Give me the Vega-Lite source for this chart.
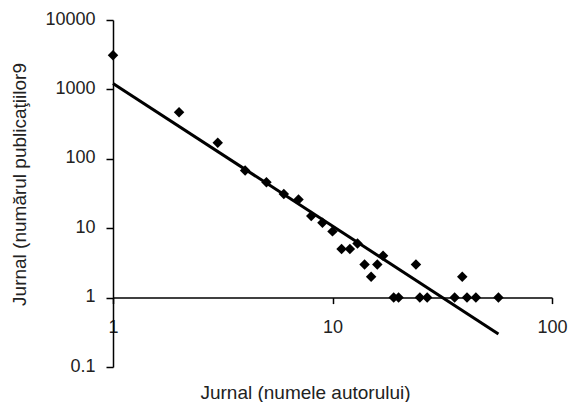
{
  "$schema": "https://vega.github.io/schema/vega-lite/v6.json",
  "width": 439,
  "height": 347,
  "autosize": "none",
  "padding": {"left": 113, "top": 20, "right": 19, "bottom": 35},
  "background": "white",
  "config": {"view": {"stroke": null}, "font": "Liberation Sans"},
  "layer": [
    {
      "data": {"values": [
        {"x": 1, "y": 3100}, {"x": 2, "y": 470}, {"x": 3, "y": 170}, {"x": 4, "y": 68},
        {"x": 5, "y": 46}, {"x": 6, "y": 31}, {"x": 7, "y": 26}, {"x": 8, "y": 15},
        {"x": 9, "y": 12}, {"x": 10, "y": 9}, {"x": 11, "y": 5}, {"x": 12, "y": 5},
        {"x": 13, "y": 6}, {"x": 14, "y": 3}, {"x": 15, "y": 2}, {"x": 16, "y": 3},
        {"x": 17, "y": 4}, {"x": 19, "y": 1}, {"x": 20, "y": 1}, {"x": 24, "y": 3},
        {"x": 25, "y": 1}, {"x": 27, "y": 1}, {"x": 36, "y": 1}, {"x": 39, "y": 2},
        {"x": 41, "y": 1}, {"x": 45, "y": 1}, {"x": 57, "y": 1}
      ]},
      "mark": {"type": "point", "shape": "diamond", "filled": true, "color": "#000", "size": 110, "opacity": 1},
      "encoding": {
        "x": {
          "field": "x", "type": "quantitative",
          "scale": {"type": "log", "domain": [1, 100], "nice": false},
          "axis": {
            "title": "Jurnal (numele autorului)", "values": [1, 10, 100], "format": "~g",
            "orient": "bottom", "offset": -69.4, "grid": false,
            "domainColor": "#000", "domainWidth": 1.5, "tickColor": "#000", "tickWidth": 1.5, "tickSize": 6,
            "labelFontSize": 18, "labelColor": "#222", "labelPadding": 15, "labelFlush": false, "labelOverlap": false,
            "titleFontSize": 19, "titleFontWeight": "normal", "titleColor": "#222",
            "titleX": 192, "titleY": 100.5, "titleAlign": "center", "titleBaseline": "alphabetic"
          }
        },
        "y": {
          "field": "y", "type": "quantitative",
          "scale": {"type": "log", "domain": [0.1, 10000], "nice": false},
          "axis": {
            "title": "Jurnal (numărul publicaţiilor9", "values": [0.1, 1, 10, 100, 1000, 10000], "format": "~g",
            "grid": false, "domainColor": "#000", "domainWidth": 1.5, "tickColor": "#000", "tickWidth": 1.5, "tickSize": 7,
            "labelFontSize": 18, "labelColor": "#222", "labelPadding": 11, "labelOffset": -1, "labelOverlap": false, "labelFlush": false,
            "titleFontSize": 19, "titleFontWeight": "normal", "titleColor": "#222",
            "titleX": -88, "titleY": 164, "titleAngle": -90, "titleAlign": "center", "titleBaseline": "alphabetic"
          }
        }
      }
    },
    {
      "data": {"values": [{"x": 1, "y": 1220}, {"x": 57, "y": 0.3}]},
      "mark": {"type": "line", "color": "#000", "strokeWidth": 3},
      "encoding": {
        "x": {"field": "x", "type": "quantitative"},
        "y": {"field": "y", "type": "quantitative"}
      }
    }
  ]
}
